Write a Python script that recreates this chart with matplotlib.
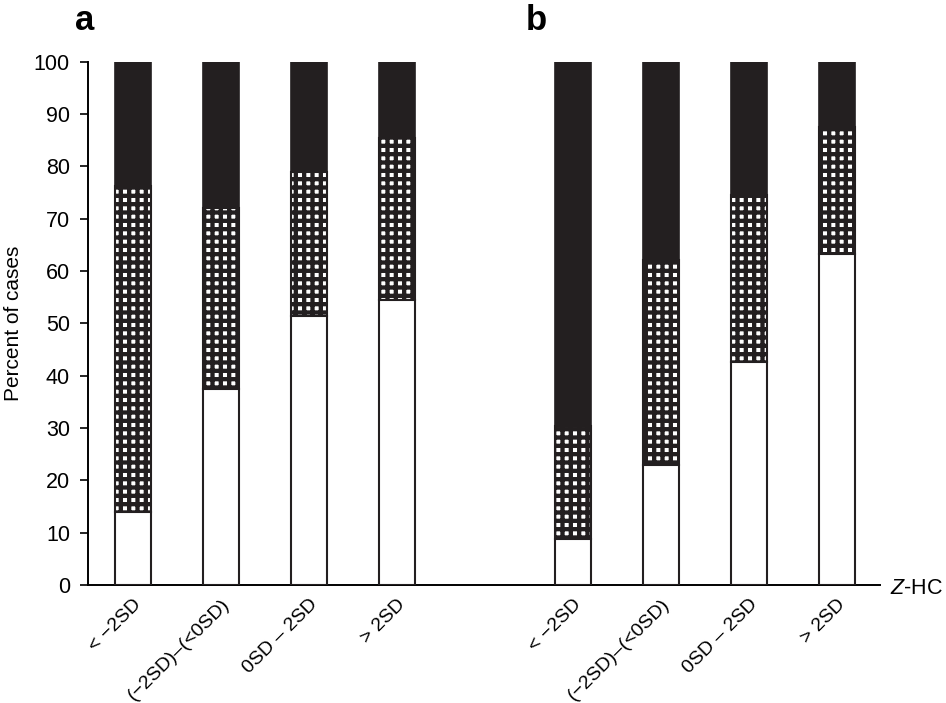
import matplotlib
matplotlib.use("Agg")
import matplotlib.pyplot as plt
import numpy as np

plt.rcParams['font.family'] = ['Liberation Sans', 'DejaVu Sans']
plt.rcParams['mathtext.fontset'] = 'custom'
plt.rcParams['mathtext.rm'] = 'Liberation Sans'
plt.rcParams['mathtext.it'] = 'Liberation Sans:italic'
plt.rcParams['hatch.linewidth'] = 3.1

categories = ["< \u22122SD", "(\u22122SD)\u2013(<0SD)", "0SD \u2013 2SD", "> 2SD"]
# cumulative tops of segments (percent)
white_a = [14.0, 37.5, 51.5, 54.5]
hatch_top_a = [76.2, 72.0, 79.0, 85.5]
white_b = [8.8, 23.0, 42.6, 63.3]
hatch_top_b = [30.3, 62.2, 74.5, 87.6]
total = 100

pos_a = np.array([0, 1, 2, 3])
pos_b = np.array([5, 6, 7, 8])

dark = '#231f20'
fig = plt.figure(figsize=(9.46, 7.03), dpi=100)
ax = fig.add_axes([0.093, 0.168, 0.837, 0.744])

w = 0.41
for pos, wt, ht in [(pos_a, white_a, hatch_top_a), (pos_b, white_b, hatch_top_b)]:
    wt = np.array(wt); ht = np.array(ht)
    ax.bar(pos, total - ht, w, bottom=ht, color=dark, edgecolor=dark, linewidth=1.2, zorder=2)
    ax.bar(pos, ht - wt, w, bottom=wt, color='white', edgecolor=dark, hatch='++', linewidth=0, zorder=2)
    ax.bar(pos, ht - wt, w, bottom=wt, fill=False, edgecolor=dark, linewidth=1.5, zorder=3)
    ax.bar(pos, wt, w, bottom=0, color='white', edgecolor=dark, linewidth=1.5, zorder=3)

ax.set_xlim(-0.51, 8.49)
ax.set_ylim(0, 100)
ax.set_yticks(np.arange(0, 101, 10))
ax.tick_params(axis='y', labelsize=15.5, length=6, width=1.2, direction='out', pad=7)
ax.set_xticks(np.concatenate([pos_a, pos_b]))
ax.set_xticklabels(categories + categories, rotation=45, ha='right', va='top',
                   rotation_mode='anchor', fontsize=14)
ax.tick_params(axis='x', length=0, pad=8)
for s in ['top', 'right']:
    ax.spines[s].set_visible(False)
ax.spines['left'].set_linewidth(1.4)
ax.spines['bottom'].set_linewidth(1.4)
ax.set_ylabel("Percent of cases", fontsize=15, labelpad=8)

fig.text(890/946, 1 - 588/703, "$Z$-HC", fontsize=15.5, ha='left', va='center')
fig.text(85/946, 1 - 20/703, "a", fontsize=25, fontweight='bold', ha='center', va='center')
fig.text(536/946, 1 - 20/703, "b", fontsize=25, fontweight='bold', ha='center', va='center')

fig.savefig("out.png", dpi=100)
